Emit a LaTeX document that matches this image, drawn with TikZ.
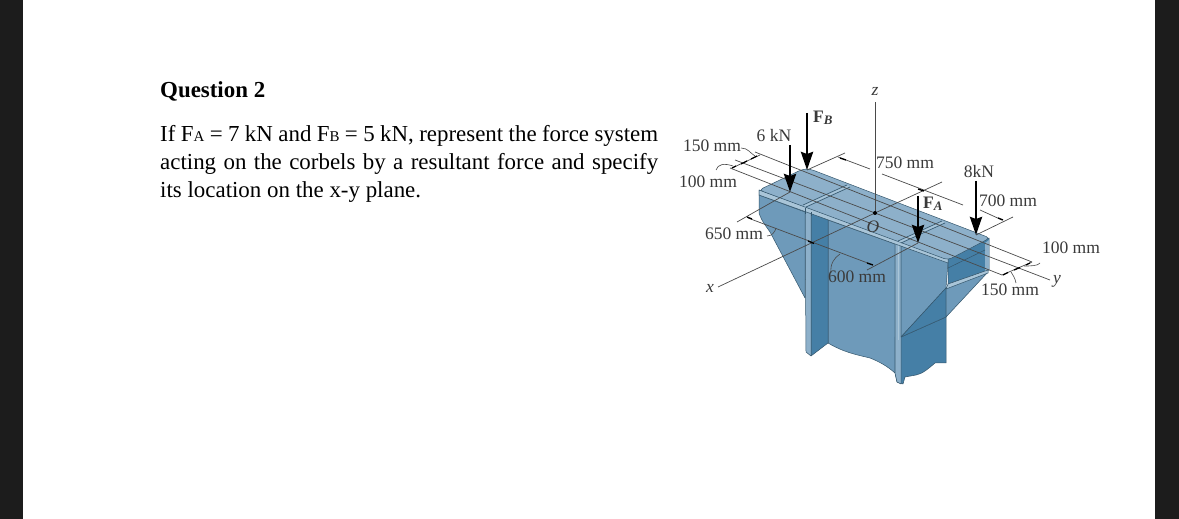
\documentclass[tikz,border=0pt]{standalone}
\usepackage{fontspec}
\setmainfont{Liberation Serif}
\usetikzlibrary{arrows.meta}
\definecolor{sidebar}{HTML}{1C1C1C}
\definecolor{bdark}{HTML}{457FA6}
\definecolor{bmid}{HTML}{6E9ABA}
\definecolor{blight}{HTML}{8DB0CA}
\definecolor{bpale}{HTML}{A9C5D8}
\definecolor{edge}{HTML}{34566C}
\definecolor{dimc}{HTML}{4A4A4A}
\definecolor{lab}{HTML}{3A3A3A}
\newcommand{\sm}[1]{{\fontsize{15}{15}\selectfont #1}}
\tikzset{
  x=1bp,y=-1bp,
  part/.style={draw=edge,line width=.5bp,line join=round},
  dimline/.style={draw=dimc,line width=.7bp},
  tick/.style={draw=black,line width=1.3bp},
  leader/.style={draw=dimc,line width=.6bp},
  force/.style={draw=black,line width=2.8bp,-{Stealth[length=18bp,width=12bp,inset=2bp]}},
  dimlabel/.style={inner sep=0pt,text=lab,font=\fontsize{17.6}{18}\selectfont},
  axlabel/.style={inner sep=0pt,text=lab,font=\fontsize{17.6}{18}\selectfont\itshape},
  flab/.style={inner sep=0pt,text=lab,font=\fontsize{17.6}{18}\selectfont\bfseries},
}
\begin{document}
\begin{tikzpicture}
\useasboundingbox (0,0) rectangle (1179,519);
\fill[white] (0,0) rectangle (1179,519);
\fill[sidebar] (0,0) rectangle (23,519);
\fill[sidebar] (1155,0) rectangle (1179,519);

% question text
\node[anchor=base west,inner sep=0pt,font=\fontsize{23}{28}\selectfont\bfseries] (title) at (160,98) {Question 2};
\node[anchor=base west,inner sep=0pt,font=\fontsize{23}{28}\selectfont] (line1) at (160,142)
 {\hbox to 498bp{If F\sm{A} = 7 kN and F\sm{B} = 5 kN, represent the force system}};
\node[anchor=base west,inner sep=0pt,font=\fontsize{23}{28}\selectfont] (line2) at (160,170)
 {\hbox to 498bp{acting on the corbels by a resultant force and specify}};
\node[anchor=base west,inner sep=0pt,font=\fontsize{23}{28}\selectfont] (line3) at (160,198)
 {its location on the x-y plane.};

% column
\fill[part,fill=bmid] (828,220) -- (895,244) -- (895,373) .. controls (887,366) and (880,362) .. (870,358) .. controls (858,355) and (845,353) .. (828,343) -- cycle;
\fill[part,fill=bdark] (811,213) -- (828,220) -- (828,343) -- (811,356) -- cycle;
\fill[part,fill=blight] (805,210) -- (811,213) -- (811,356) -- (806,352) -- cycle;
% left corbel
\fill[part,fill=bmid] (759,190) -- (759,213) .. controls (762,222) and (766,226) .. (770,232) -- (805,298) -- (805,208) -- cycle;
\draw[part] (759,195) -- (805,212);
% right column part
\fill[part,fill=bdark] (901,337) -- (946,317) -- (946,363) -- (935,363) .. controls (928,369) and (922,374) .. (916,375) -- (905,377) -- (903,384) -- (897,382) -- (895,373) -- (895,337) -- cycle;
\fill[part,fill=blight] (895,243) -- (901,245) -- (901,384) -- (897,382) -- (895,373) -- cycle;
\draw[draw=bpale,line width=.8bp] (898,245) -- (898,340);
\fill[part,fill=bmid] (901,246) -- (948,262) -- (946,288) -- (901,337) -- cycle;
\fill[part,fill=bdark] (901,337) -- (946,288) -- (946,317) -- cycle;
\fill[part,fill=bmid] (946,288) -- (988,272) -- (946,317) -- cycle;
% hollow end
\fill[part,fill=bdark] (948,259) -- (989,238) -- (989,270) -- (948,284) -- cycle;
\fill[fill=blight] (985,243) -- (989,240) -- (989,270) -- (985,271) -- cycle;
\draw[part] (948,268) -- (985,250);
\fill[part,fill=bpale] (948,284) -- (988,270) -- (988,273) -- (946,289) -- cycle;
% top surface
\fill[part,fill=bpale] (759,190) -- (948,258) -- (948,263) -- (759,195) -- cycle;
\fill[part,fill=blight,rounded corners=4bp] (759,190) -- (803,169) -- (810,169) -- (990,238) -- (948,260) -- cycle;
\draw[edge,line width=.6bp] (803,205) -- (847,185) (806,207) -- (850,187);
\draw[bpale,line width=1.4bp] (804.5,206) -- (848.5,186);
\draw[edge,line width=.6bp] (898,241) -- (942,221) (901,243) -- (945,223);
\draw[bpale,line width=1.4bp] (899.5,242) -- (943.5,222);
\draw[part] (805,208) -- (805,214) (811,212) -- (811,216);

% reference points
\coordinate (O) at (875,213);
\coordinate (tipB) at (807,170);
\coordinate (tipS) at (790,192);
\coordinate (tipA) at (918,243);
\coordinate (tipE) at (976,235);
\coordinate (yend) at (1050,280);
\coordinate (xend) at (718,287);
\coordinate (zend) at (875,102);

% lines along y
\draw[dimline] (755,152) -- (1032,262);
\draw[dimline] (735,160) -- (O) -- (yend);
\draw[dimline] (730,168) -- (1002,275);
% lines along x
\draw[dimline] (tipB) -- (845,153);
\draw[dimline] (O) -- (942,182);
\draw[dimline] (O) -- (xend);
\draw[dimline] (tipE) -- (1013,217);
\draw[dimline] (tipS) -- (737,222);
\draw[dimline] (tipA) -- (867,270);
% z axis
\draw[dimline] (O) -- (zend);
\fill[black] (O) circle (2bp);
% dimension lines
\draw[dimline] (838,157) -- (870,169) (882,174) -- (963,205) (980,210) -- (1002,220);
\draw[dimline] (748,218) -- (873,265);
\draw[dimline] (732,168) -- (760,155);
\draw[dimline] (1002,275) -- (1032,262);
% ticks
\draw[tick] (741,164) -- (747,161) (751,159) -- (757,156) (732,168) -- (736,166);
\draw[tick] (1003,275) -- (1008,272.5) (1014,270) -- (1020,267.5) (1026,265) -- (1030,263);
\draw[tick] (840,158) -- (846,160) (918,189) -- (924,191) (998,218) -- (1003,220);
\draw[tick] (747,217) -- (752,219) (808,241) -- (814,243.5) (867,263) -- (873,265);
% leaders
\draw[leader] (741,148) .. controls (748,148) and (750,153) .. (755,156);
\draw[leader] (716,170) .. controls (718,164) and (724,163) .. (733,166);
\draw[leader] (767,236) .. controls (772,236) and (775,232) .. (776,228);
\draw[leader] (831,273) .. controls (830,264) and (834,258) .. (840,254);
\draw[leader] (1040,263) .. controls (1038,266) and (1030,266) .. (1024,266);
\draw[leader] (1016,283) .. controls (1015,278) and (1013,275) .. (1011,272);
% forces
\draw[force] (807,113) -- (tipB);
\draw[force] (790,145) -- (tipS);
\draw[force] (918,196) -- (tipA);
\draw[force] (976,181) -- (tipE);

% labels
\node[dimlabel] (l150a) at (712,146) {150 mm};
\node[dimlabel] (l100a) at (708,182) {100 mm};
\node[dimlabel] (l6) at (774,136) {6 kN};
\node[flab,anchor=west] (lFB) at (813,118) {F\textit{\fontsize{13}{13}\selectfont\raisebox{-2bp}{B}}};
\node[dimlabel] (l750) at (905,163) {750 mm};
\node[dimlabel] (l8) at (979,172) {8kN};
\node[dimlabel] (l700) at (1008,201) {700 mm};
\node[flab,anchor=west] (lFA) at (923,204) {F\textit{\fontsize{13}{13}\selectfont\raisebox{-2bp}{A}}};
\node[dimlabel] (l650) at (734,234) {650 mm};
\node[dimlabel] (l600) at (857,277) {600 mm};
\node[dimlabel] (l100b) at (1071,248) {100 mm};
\node[dimlabel] (l150b) at (1010,290) {150 mm};
\node[axlabel] (lx) at (710,288) {x};
\node[axlabel] (ly) at (1057,281) {y};
\node[axlabel] (lz) at (875,91) {z};
\node[axlabel] (lO) at (873,227) {O};
\end{tikzpicture}
\end{document}
